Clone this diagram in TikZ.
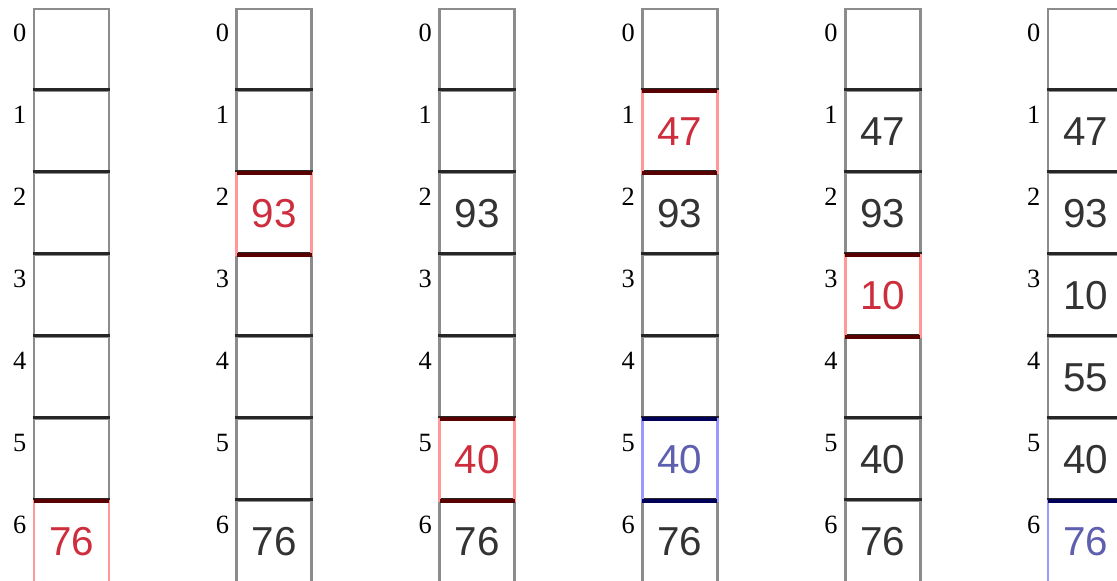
\documentclass[tikz,border=0pt]{standalone}
\usepackage{fontspec}
\setmainfont{Liberation Serif}
\setsansfont{Liberation Sans}
\usetikzlibrary{calc}
\definecolor{newred}{RGB}{205,45,60}
\definecolor{oldblue}{RGB}{95,95,175}
\tikzset{
  cell/.style={draw=black!45, line width=1.5pt, minimum width=1.5cm, minimum height=1.64cm, inner sep=0pt},
  sep/.style={line width=1.8pt, black!85},
  idx/.style={font=\fontsize{15}{17}\selectfont, inner sep=0pt},
  val/.style={font=\sffamily\fontsize{23}{26}\selectfont, text=black!80},
  hilite/.style={val, line width=1.5pt, minimum width=1.5cm, minimum height=1.64cm, inner sep=0pt, outer sep=0pt,
    append after command={(\tikzlastnode.north west) edge[sep, #1] (\tikzlastnode.north east)
                          (\tikzlastnode.south west) edge[sep, #1] (\tikzlastnode.south east)}},
  newval/.style={hilite=red!35!black, text=newred, draw=red!40},
  oldval/.style={hilite=blue!35!black, text=oldblue, draw=blue!40}
}
\begin{document}
\begin{tikzpicture}[x=0.02cm, y=-0.02cm]
  \useasboundingbox (0,0) rectangle (1117,581);
  \clip (0,0) rectangle (1117,581);

  % Table cells and index labels
  \foreach \col in {1,...,6} {
    \foreach \r in {0,...,6} {
      \node[cell] (c\col-\r) at ({71.5+202.8*(\col-1)}, {50+82*\r}) {};
      \node[idx] (i\col-\r) at ($(c\col-\r.north west)+(-13,25)$) {\r};
    }
    \foreach \r in {1,...,6}
      \draw[sep] (c\col-\r.north west) -- (c\col-\r.north east);
  }

  % Stored keys
  \foreach \col/\keys in {1/{6/76/newval},
                          2/{2/93/newval, 6/76/val},
                          3/{2/93/val, 5/40/newval, 6/76/val},
                          4/{1/47/newval, 2/93/val, 5/40/oldval, 6/76/val},
                          5/{1/47/val, 2/93/val, 3/10/newval, 5/40/val, 6/76/val},
                          6/{1/47/val, 2/93/val, 3/10/val, 4/55/val, 5/40/val, 6/76/oldval}} {
    \foreach \r/\v/\s in \keys
      \node[\s] (k\col-\r) at (c\col-\r) {\v};
  }
\end{tikzpicture}
\end{document}
